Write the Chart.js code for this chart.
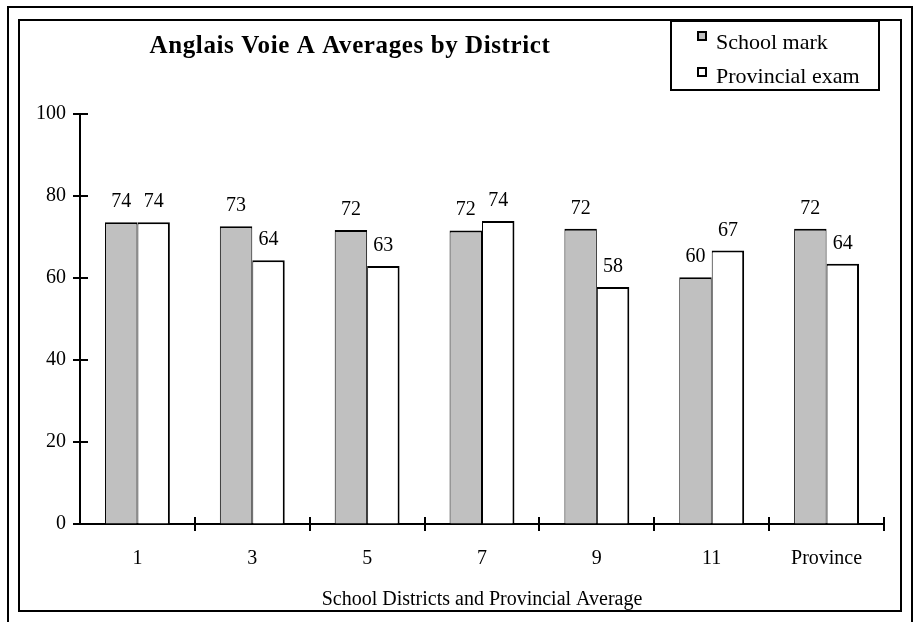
<!DOCTYPE html>
<html>
<head>
<meta charset="utf-8">
<script src="https://cdn.jsdelivr.net/npm/chart.js@4"></script>
<style>
  html, body { margin:0; padding:0; background:#fff; }
  #chart { display:block; }
</style>
</head>
<body>
<canvas id="chart" width="914" height="622"></canvas>
<script>
// chart data
const districts    = ['1', '3', '5', '7', '9', '11', 'Province'];
const schoolMark   = [73.6, 72.6, 71.7, 71.6, 72.0, 60.2, 72.0];
const provExam     = [73.6, 64.3, 62.9, 73.9, 57.8, 66.7, 63.5];
const seriesNames  = ['School mark', 'Provincial exam'];
const yTicks       = [0, 20, 40, 60, 80, 100];
const chartTitle   = 'Anglais Voie A Averages by District';
const xAxisTitle   = 'School Districts and Provincial Average';

const SERIF = '"Liberation Serif", "Times New Roman", serif';

// frames, title, legend, value labels, crossing tick marks
const decor = {
  id: 'decor',
  afterDraw(chart) {
    const ctx = chart.ctx, x = chart.scales.x, y = chart.scales.y;
    ctx.save();
    ctx.strokeStyle = '#000';
    ctx.lineWidth = 2;
    // outer frame (open at the bottom)
    ctx.beginPath();
    ctx.moveTo(8, 622); ctx.lineTo(8, 7); ctx.lineTo(912, 7); ctx.lineTo(912, 622);
    ctx.stroke();
    // inner frame
    ctx.strokeRect(19, 20, 882, 591);

    // tick marks crossing the axes
    ctx.beginPath();
    yTicks.forEach(v => { const py = y.getPixelForValue(v); ctx.moveTo(x.left - 7, py); ctx.lineTo(x.left + 8, py); });
    for (let i = 1; i <= districts.length; i++) {
      const bx = Math.round(x.left + i * (x.right - x.left) / districts.length);
      ctx.moveTo(bx, y.bottom - 7); ctx.lineTo(bx, y.bottom + 7);
    }
    ctx.stroke();

    // value labels
    ctx.fillStyle = '#000';
    ctx.font = '20px ' + SERIF;
    ctx.textAlign = 'center';
    ctx.textBaseline = 'alphabetic';
    chart.data.datasets.forEach((ds, di) => {
      chart.getDatasetMeta(di).data.forEach((bar, i) => {
        ctx.fillText(String(Math.round(ds.data[i])), bar.x, bar.y - 15);
      });
    });

    // title
    ctx.font = 'bold 25px ' + SERIF;
    ctx.letterSpacing = '0.6px';
    ctx.fillText(chartTitle, 350, 53);
    ctx.letterSpacing = '0px';

    // legend
    ctx.lineWidth = 2;
    ctx.strokeRect(671, 21, 208, 69);
    ctx.font = '22px ' + SERIF;
    ctx.textAlign = 'left';
    const rows = [[32, 49], [68, 83]];
    chart.data.datasets.forEach((ds, di) => {
      const [sy, base] = rows[di];
      ctx.fillStyle = ds.backgroundColor;
      ctx.fillRect(698, sy, 8, 8);
      ctx.lineWidth = 2;
      ctx.strokeRect(698, sy, 8, 8);
      ctx.fillStyle = '#000';
      ctx.fillText(ds.label, 716, base);
    });
    ctx.restore();
  }
};

new Chart(document.getElementById('chart'), {
  type: 'bar',
  data: {
    labels: districts,
    datasets: [
      { label: seriesNames[0], data: schoolMark, backgroundColor: '#c0c0c0', borderColor: '#000',
        borderWidth: { top: 2, left: 1, right: 1, bottom: 0 }, borderSkipped: false },
      { label: seriesNames[1], data: provExam, backgroundColor: '#ffffff', borderColor: '#000',
        borderWidth: { top: 2, left: 1, right: 2, bottom: 0 }, borderSkipped: false }
    ]
  },
  options: {
    responsive: false,
    animation: false,
    devicePixelRatio: 1,
    layout: { padding: { left: 0, right: 30, top: 114, bottom: 0 } },
    categoryPercentage: 0.565,
    barPercentage: 1,
    plugins: { legend: { display: false }, tooltip: { enabled: false }, title: { display: false } },
    scales: {
      x: {
        grid: { display: true, drawOnChartArea: false, drawTicks: false },
        border: { color: '#000', width: 2 },
        ticks: { color: '#000', font: { family: SERIF, size: 20 }, padding: 23, maxRotation: 0 },
        title: { display: true, text: xAxisTitle, color: '#000', font: { family: SERIF, size: 20 }, padding: { top: 0, bottom: 10 } },
        afterFit(s) { s.height = 98; }
      },
      y: {
        min: 0, max: 100,
        afterBuildTicks(s) { s.ticks = yTicks.map(v => ({ value: v })); },
        grid: { drawOnChartArea: false, drawTicks: false },
        border: { color: '#000', width: 2 },
        ticks: { color: '#000', font: { family: SERIF, size: 20 }, padding: 14 },
        afterFit(s) { s.width = 80; }
      }
    }
  },
  plugins: [decor]
});
</script>
</body>
</html>
